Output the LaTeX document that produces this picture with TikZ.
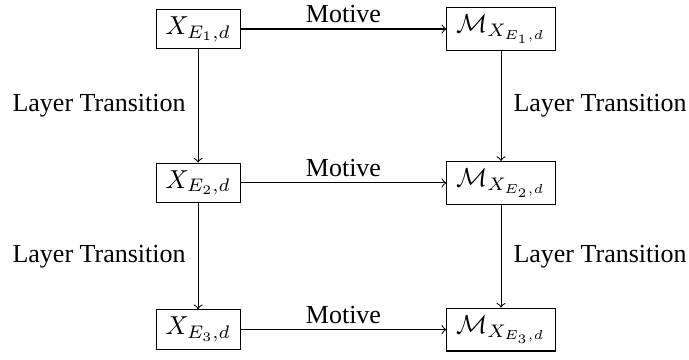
\documentclass[tikz,border=0pt]{standalone}
\usepackage[no-math]{fontspec}
\setmainfont{Liberation Serif}
\begin{document}
\begin{tikzpicture}[
  box/.style={draw, line width=0.4pt, inner xsep=3.6pt, inner ysep=2.8pt},
  conn/.style={->, line width=0.4pt},
  lblh/.style={font=\normalsize, inner sep=2.2pt},
  lblv/.style={font=\normalsize, inner sep=4.6pt}
]
\useasboundingbox (0,0) rectangle (265pt,138.46pt);
\node[box] (x1) at (76.2pt,127.3pt) {$X_{E_1,d}$};
\node[box] (m1) at (192.7pt,127.3pt) {$\mathcal{M}_{X_{E_1,d}}$};
\node[box] (x2) at (76.2pt,68.1pt) {$X_{E_2,d}$};
\node[box] (m2) at (192.7pt,68.1pt) {$\mathcal{M}_{X_{E_2,d}}$};
\node[box] (x3) at (76.2pt,11.7pt) {$X_{E_3,d}$};
\node[box] (m3) at (192.7pt,11.7pt) {$\mathcal{M}_{X_{E_3,d}}$};
\draw[conn] (x1) -- node[lblh, above] {Motive} (m1);
\draw[conn] (x2) -- node[lblh, above] {Motive} (m2);
\draw[conn] (x3) -- node[lblh, above] {Motive} (m3);
\draw[conn] (x1) -- node[lblv, left] {Layer Transition} (x2);
\draw[conn] (x2) -- node[lblv, left] {Layer Transition} (x3);
\draw[conn] (m1) -- node[lblv, right] {Layer Transition} (m2);
\draw[conn] (m2) -- node[lblv, right] {Layer Transition} (m3);
\end{tikzpicture}
\end{document}
